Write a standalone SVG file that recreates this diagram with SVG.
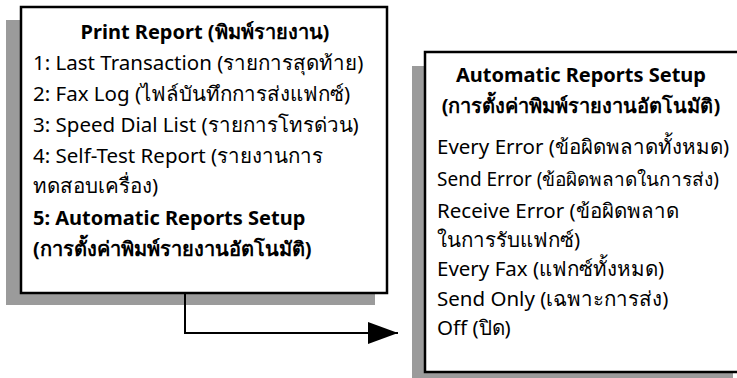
<svg xmlns="http://www.w3.org/2000/svg" width="737" height="378" viewBox="0 0 737 378">
<defs>
<style>
.shadow{fill:#9b9b9b}
.box{fill:#fff;stroke:#000;stroke-width:2.5}
text{font-family:"Noto Sans","Liberation Sans",sans-serif;font-size:20.5px;fill:#000}
.b{font-weight:bold;font-size:20px}
.c{text-anchor:middle}
.s{font-size:19px}
.conn{fill:none;stroke:#000;stroke-width:2}
</style>
<marker id="arr" markerUnits="userSpaceOnUse" markerWidth="32" markerHeight="22" refX="30" refY="11" orient="auto">
<path d="M0,0 L30,11 L0,22 Z" fill="#000"/>
</marker>
</defs>
<rect width="737" height="378" fill="#fff"/>
<g id="print-report">
<rect class="shadow" x="6" y="20" width="369" height="285"/>
<rect class="box" x="21" y="7" width="366" height="286"/>
<text class="b c" x="205" y="39">Print Report (พิมพ์รายงาน)</text>
<text x="33" y="70">1: Last Transaction (รายการสุดท้าย)</text>
<text x="33" y="101">2: Fax Log (ไฟล์บันทึกการส่งแฟกซ์)</text>
<text x="33" y="132">3: Speed Dial List (รายการโทรด่วน)</text>
<text x="33" y="163">4: Self-Test Report (รายงานการ</text>
<text x="33" y="193">ทดสอบเครื่อง)</text>
<text class="b" x="33" y="225">5: Automatic Reports Setup</text>
<text class="b" x="33" y="256">(การตั้งค่าพิมพ์รายงานอัตโนมัติ)</text>
</g>
<g id="auto-reports">
<rect class="shadow" x="412" y="66" width="321" height="312"/>
<rect class="box" x="425" y="52" width="320" height="320"/>
<text class="b c" x="581" y="82">Automatic Reports Setup</text>
<text class="b c" x="581" y="113">(การตั้งค่าพิมพ์รายงานอัตโนมัติ)</text>
<text x="437" y="154">Every Error (ข้อผิดพลาดทั้งหมด)</text>
<text class="s" x="437" y="186">Send Error (ข้อผิดพลาดในการส่ง)</text>
<text x="437" y="218">Receive Error (ข้อผิดพลาด</text>
<text x="437" y="247">ในการรับแฟกซ์)</text>
<text x="437" y="276">Every Fax (แฟกซ์ทั้งหมด)</text>
<text x="437" y="306">Send Only (เฉพาะการส่ง)</text>
<text x="437" y="335">Off (ปิด)</text>
</g>
<g id="connectors">
<path class="conn" d="M185,293 V333 H398" marker-end="url(#arr)"/>
</g>
</svg>
